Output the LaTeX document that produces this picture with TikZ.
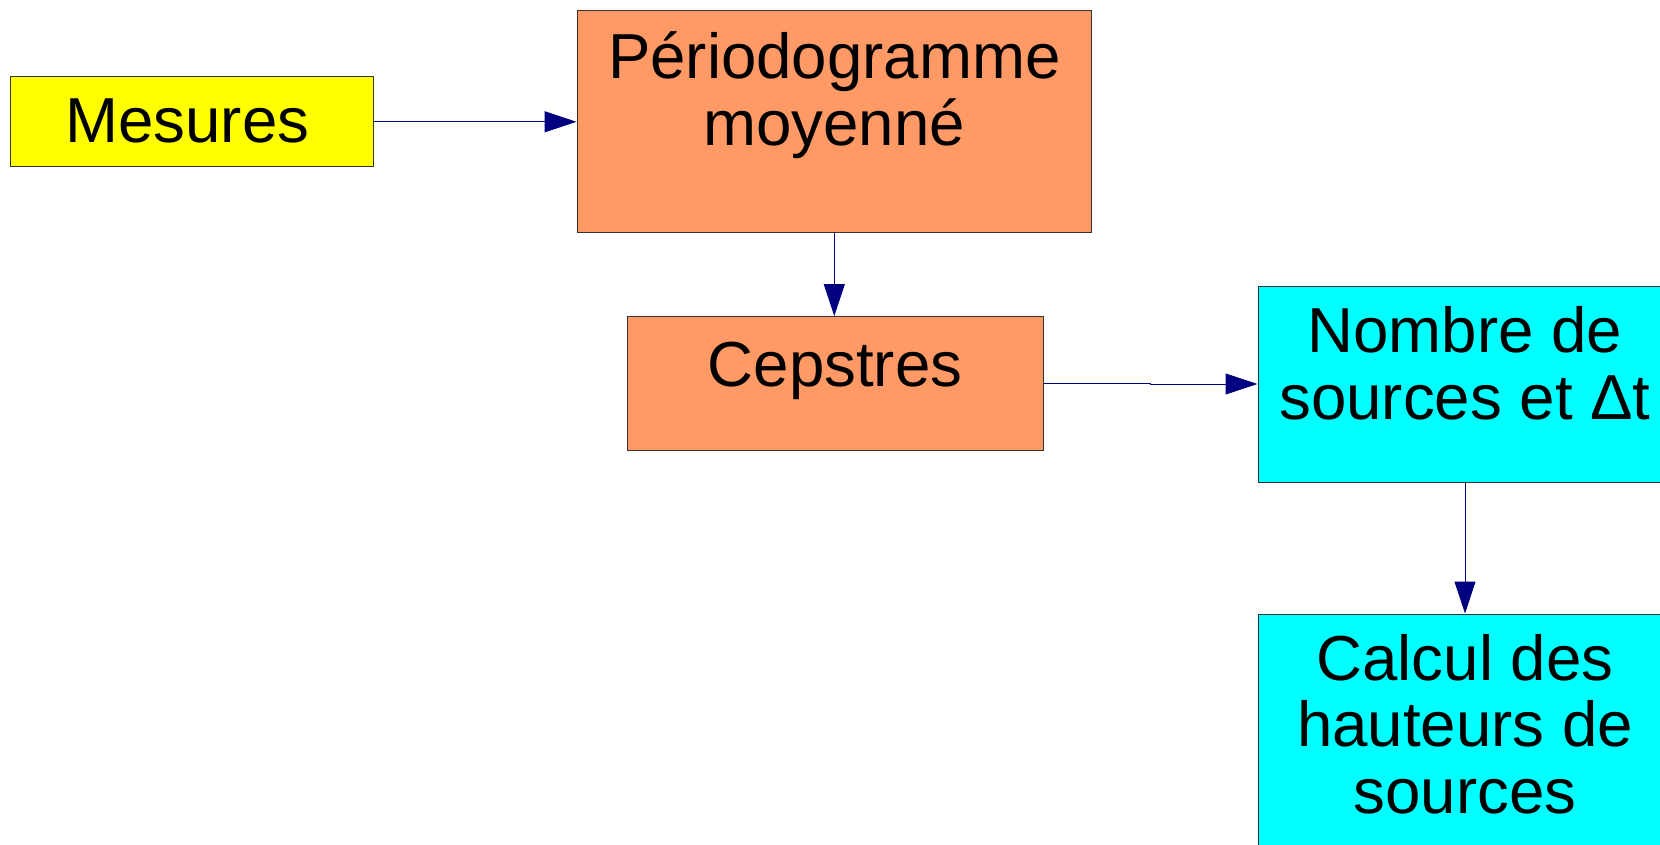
\documentclass[tikz,border=0pt]{standalone}
\usepackage{fontspec}
\setmainfont{Liberation Sans}
\usetikzlibrary{arrows.meta}
\definecolor{boxyellow}{HTML}{FFFF00}
\definecolor{boxorange}{HTML}{FF9966}
\definecolor{boxcyan}{HTML}{00FFFF}
\definecolor{arrownavy}{HTML}{000080}
\definecolor{edgegray}{HTML}{333333}
\begin{document}
\begin{tikzpicture}[x=1pt,y=-1pt,
  blk/.style={draw=edgegray, line width=1pt, inner sep=0pt, rectangle},
  lbl/.style={inner sep=0pt, align=center, anchor=base, font=\fontsize{63.6}{66.5}\selectfont},
  conn/.style={draw=arrownavy, line width=1pt, -{Triangle[length=32pt,width=21pt]}, arrownavy}]
\useasboundingbox (0,0) rectangle (1660,845);
\clip (0,0) rectangle (1660,845);
\fill[white] (0,0) rectangle (1660,845);
% boxes
\node[blk, fill=boxyellow, minimum width=363pt, minimum height=90pt] (M) at (192,121.2) {};
\node[blk, fill=boxorange, minimum width=514.5pt, minimum height=222.4pt] (P) at (834.3,121.8) {};
\node[blk, fill=boxorange, minimum width=416pt, minimum height=133.5pt] (C) at (835,383.3) {};
\node[blk, fill=boxcyan, minimum width=414pt, minimum height=196pt] (N) at (1465,384) {};
\node[blk, fill=boxcyan, minimum width=414pt, minimum height=250pt] (K) at (1465,739) {};
% texts
\node[lbl] (Mt) at (187.4,143) {Mesures};
\node[lbl] (Pt) at (834.3,145.5) {Périodogramme\\moyenné};
\node[lbl] (Ct) at (835,386) {Cepstres};
\node[lbl] (Nt) at (1465,419) {Nombre de\\sources et Δt};
\node[lbl] (Kt) at (1465,813) {Calcul des\\hauteurs de\\sources};
% connectors
\draw[conn] (M.east) -- ++(101,0) |- (P.west);
\draw[conn] (P.south) -- (P.south |- C.north);
\draw[conn] (C.east) -- ++(107,0) |- (N.west);
\draw[conn] (N.south) -- (N.south |- K.north);
\end{tikzpicture}
\end{document}
